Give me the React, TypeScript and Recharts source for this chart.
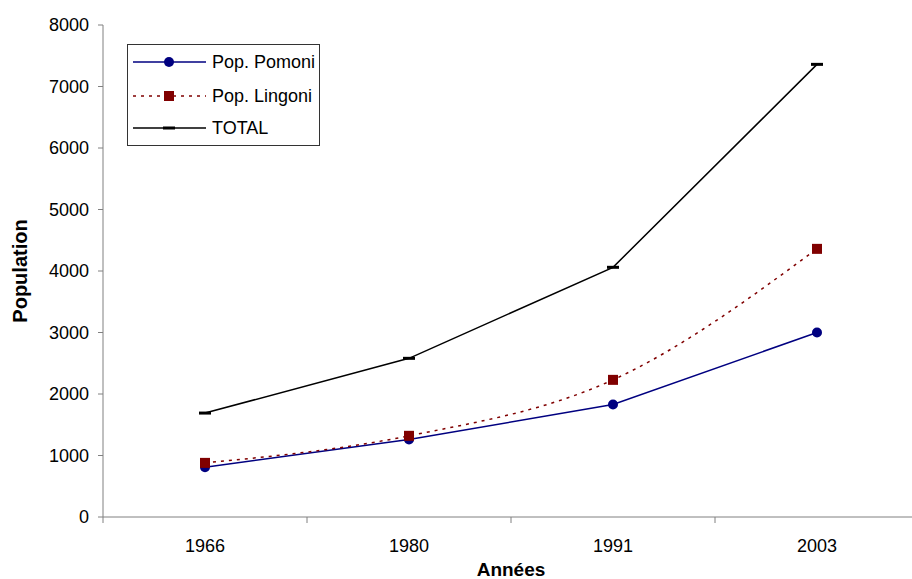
import { LineChart, Line, XAxis, YAxis, Legend } from 'recharts'

const years = ['1966', '1980', '1991', '2003']
const pomoni = [810, 1260, 1830, 3000]
const lingoni = [880, 1320, 2230, 4360]
const total = [1690, 2580, 4060, 7360]
const yTicks = [0, 1000, 2000, 3000, 4000, 5000, 6000, 7000, 8000]

const data = years.map((year, i) => ({ year, pomoni: pomoni[i], lingoni: lingoni[i], total: total[i] }))

const FONT = '"Liberation Sans", Arial, sans-serif'
const W = 920
const H = 579
const LEFT = 103
const RIGHT = 1
const BOTTOM = 62
const AXIS_Y = H - BOTTOM
const BAND = (W - LEFT - RIGHT) / years.length
const AXIS_COLOR = '#808080'

function XTick (props: any) {
  const { x, payload } = props
  const last = payload.value === years[years.length - 1]
  return (
    <g>
      <line x1={x - BAND / 2} x2={x - BAND / 2} y1={AXIS_Y} y2={AXIS_Y + 6} stroke={AXIS_COLOR} />
      {last && <line x1={x + BAND / 2} x2={x + BAND / 2} y1={AXIS_Y} y2={AXIS_Y + 6} stroke={AXIS_COLOR} />}
      <text x={x} y={AXIS_Y + 35} textAnchor="middle" fontSize={18} fontFamily={FONT} fill="#000">{payload.value}</text>
    </g>
  )
}

const Square = (p: any) => (
  <rect key={`sq-${p.index}`} x={p.cx - 5} y={p.cy - 5} width={10} height={10} fill="#800000" />
)

const Dash = (p: any) => (
  <rect key={`ds-${p.index}`} x={p.cx - 6} y={p.cy - 1.5} width={12} height={3} fill="#000" />
)

function LegendBox () {
  const rows = [
    { label: 'Pop. Pomoni', y: 18, color: '#000080', dash: undefined, marker: 'circle' },
    { label: 'Pop. Lingoni', y: 52, color: '#800000', dash: '3 5', marker: 'square' },
    { label: 'TOTAL', y: 84, color: '#000', dash: undefined, marker: 'dash' }
  ]
  return (
    <svg width={193} height={102} style={{ display: 'block' }}>
      <rect x={0.5} y={0.5} width={192} height={101} fill="#fff" stroke="#333" />
      {rows.map(r => (
        <g key={r.label}>
          <line x1={6} x2={79} y1={r.y} y2={r.y} stroke={r.color} strokeWidth={1.5} strokeDasharray={r.dash} />
          {r.marker === 'circle' && <circle cx={42} cy={r.y} r={5} fill={r.color} />}
          {r.marker === 'square' && <rect x={37} y={r.y - 5} width={10} height={10} fill={r.color} />}
          {r.marker === 'dash' && <rect x={36} y={r.y - 1.5} width={12} height={3} fill={r.color} />}
          <text x={85} y={r.y + 6} fontSize={18} fontFamily={FONT} fill="#000">{r.label}</text>
        </g>
      ))}
    </svg>
  )
}

export default function App () {
  return (
    <div style={{ position: 'absolute', left: 0, top: 0, width: 912, height: 579, overflow: 'hidden', background: '#fff' }}>
      <LineChart width={W} height={H} data={data} margin={{ top: 25, right: RIGHT, bottom: 0, left: 0 }}>
        <XAxis
          dataKey="year"
          scale="band"
          height={BOTTOM}
          axisLine={{ stroke: AXIS_COLOR }}
          tickLine={false}
          tick={<XTick />}
          interval={0}
          label={{ value: 'Années', position: 'insideBottom', offset: 3, style: { fontSize: 19, fontWeight: 'bold', fontFamily: FONT, fill: '#000' } }}
        />
        <YAxis
          width={LEFT}
          domain={[0, 8000]}
          ticks={yTicks}
          interval={0}
          tickSize={5}
          tickMargin={9}
          axisLine={{ stroke: AXIS_COLOR }}
          tickLine={{ stroke: AXIS_COLOR }}
          tick={{ fontSize: 18, fontFamily: FONT, fill: '#000' }}
          label={{ value: 'Population', angle: -90, position: 'insideLeft', offset: 20, style: { textAnchor: 'middle', fontSize: 20, fontWeight: 'bold', fontFamily: FONT, fill: '#000' } }}
        />
        <Legend layout="vertical" align="center" verticalAlign="middle" wrapperStyle={{ top: 44, left: 127, width: 193, height: 102 }} content={() => <LegendBox />} />
        <Line type="linear" dataKey="pomoni" stroke="#000080" strokeWidth={1.5} dot={{ r: 5, fill: '#000080', stroke: '#000080', strokeWidth: 0 }} isAnimationActive={false} />
        <Line type="monotone" dataKey="lingoni" stroke="#800000" strokeWidth={1.5} strokeDasharray="3 5" dot={Square} isAnimationActive={false} />
        <Line type="linear" dataKey="total" stroke="#000" strokeWidth={1.5} dot={Dash} isAnimationActive={false} />
      </LineChart>
    </div>
  )
}
